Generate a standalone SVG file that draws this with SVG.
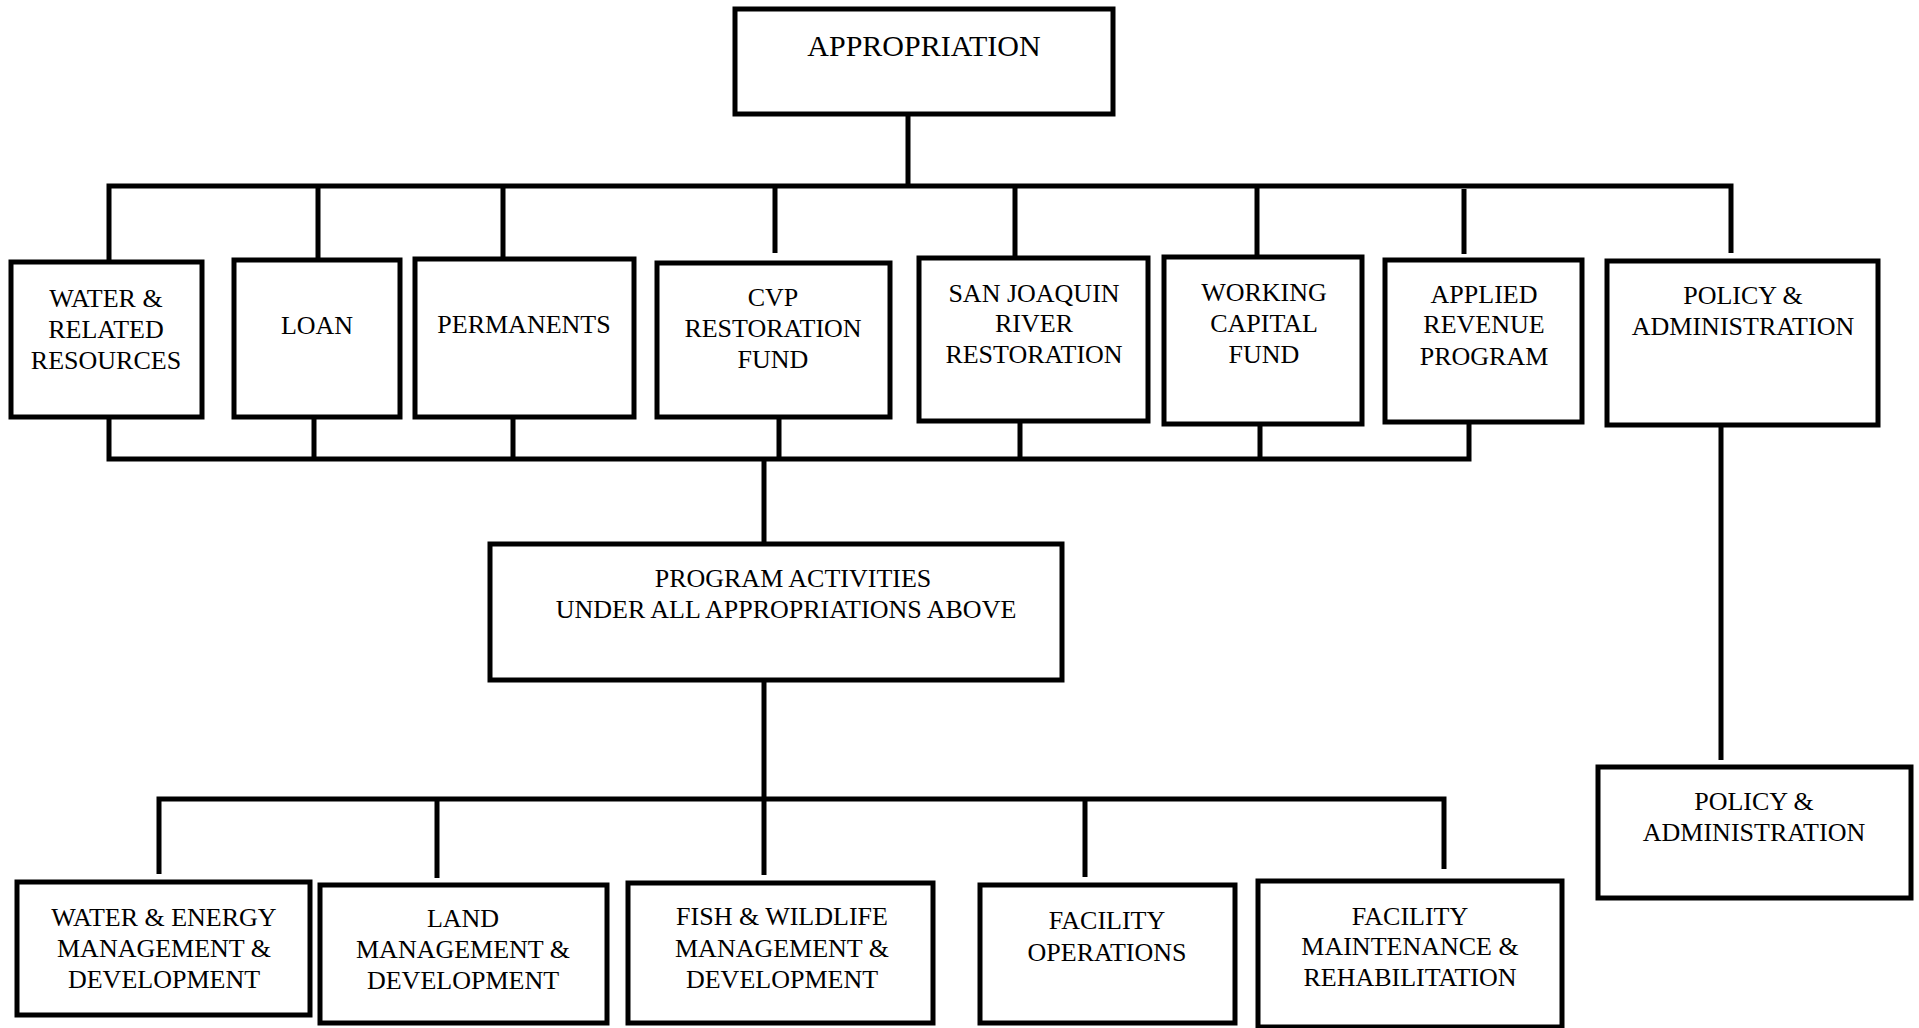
<svg xmlns="http://www.w3.org/2000/svg" width="1919" height="1028" viewBox="0 0 1919 1028">
<style>
.box{fill:#fff;stroke:#000;stroke-width:5}
.c{fill:none;stroke:#000;stroke-width:5;stroke-linecap:butt}
text{font-family:"Liberation Serif","Times New Roman",serif;font-size:26px;fill:#000;text-anchor:middle}
.big{font-size:30px}
</style>
<rect width="1919" height="1028" fill="#fff"/>
<g id="connectors">
<path class="c" d="M908,114V186M109,186H1733.5M109,183.5V262M318,186V260M503,186V259M775,186V253M1015,186V258M1257,186V257M1464,189V254M1731,183.5V253"/>
<path class="c" d="M109,417V459M106.5,459H1471.5M314,417V459M513,417V459M779,417V459M1020,421V459M1260,424V459M1469,422V461.5M764,459V544"/>
<path class="c" d="M1721,425V760"/>
<path class="c" d="M764,680V799M156.5,799H1446.5M159,796.5V874M437,799V878M764,799V875M1085,799V877M1444,796.5V869"/>
</g>
<g id="appropriation"><rect class="box" x="735" y="9" width="378" height="105"/><text class="big" x="924" y="56">APPROPRIATION</text></g>
<g id="water-related"><rect class="box" x="11" y="262" width="191" height="155"/><text x="106" y="307">WATER &amp;<tspan x="106" y="338">RELATED</tspan><tspan x="106" y="369">RESOURCES</tspan></text></g>
<g id="loan"><rect class="box" x="234" y="260" width="166" height="157"/><text x="317" y="334">LOAN</text></g>
<g id="permanents"><rect class="box" x="415" y="259" width="219" height="158"/><text x="524" y="333">PERMANENTS</text></g>
<g id="cvp"><rect class="box" x="657" y="263" width="233" height="154"/><text x="773" y="306">CVP<tspan x="773" y="337">RESTORATION</tspan><tspan x="773" y="368">FUND</tspan></text></g>
<g id="san-joaquin"><rect class="box" x="919" y="258" width="229" height="163"/><text x="1034" y="302">SAN JOAQUIN<tspan x="1034" y="332">RIVER</tspan><tspan x="1034" y="363">RESTORATION</tspan></text></g>
<g id="working-capital"><rect class="box" x="1164" y="257" width="198" height="167"/><text x="1264" y="301">WORKING<tspan x="1264" y="332">CAPITAL</tspan><tspan x="1264" y="363">FUND</tspan></text></g>
<g id="applied-revenue"><rect class="box" x="1385" y="260" width="197" height="162"/><text x="1484" y="303">APPLIED<tspan x="1484" y="333">REVENUE</tspan><tspan x="1484" y="365">PROGRAM</tspan></text></g>
<g id="policy-top"><rect class="box" x="1607" y="261" width="271" height="164"/><text x="1743" y="304">POLICY &amp;<tspan x="1743" y="335">ADMINISTRATION</tspan></text></g>
<g id="program-activities"><rect class="box" x="490" y="544" width="572" height="136"/><text x="793" y="587">PROGRAM ACTIVITIES</text><text x="786" y="618">UNDER ALL APPROPRIATIONS ABOVE</text></g>
<g id="water-energy"><rect class="box" x="17" y="882" width="293" height="133"/><text x="164" y="926">WATER &amp; ENERGY<tspan x="164" y="957">MANAGEMENT &amp;</tspan><tspan x="164" y="988">DEVELOPMENT</tspan></text></g>
<g id="land"><rect class="box" x="320" y="885" width="287" height="138"/><text x="463" y="927">LAND<tspan x="463" y="958">MANAGEMENT &amp;</tspan><tspan x="463" y="989">DEVELOPMENT</tspan></text></g>
<g id="fish-wildlife"><rect class="box" x="628" y="883" width="305" height="140"/><text x="782" y="925">FISH &amp; WILDLIFE<tspan x="782" y="957">MANAGEMENT &amp;</tspan><tspan x="782" y="988">DEVELOPMENT</tspan></text></g>
<g id="facility-operations"><rect class="box" x="980" y="885" width="255" height="138"/><text x="1107" y="929">FACILITY<tspan x="1107" y="961">OPERATIONS</tspan></text></g>
<g id="facility-maintenance"><rect class="box" x="1258" y="881" width="304" height="146"/><text x="1410" y="925">FACILITY<tspan x="1410" y="955">MAINTENANCE &amp;</tspan><tspan x="1410" y="986">REHABILITATION</tspan></text></g>
<g id="policy-bottom"><rect class="box" x="1598" y="767" width="313" height="131"/><text x="1754" y="810">POLICY &amp;<tspan x="1754" y="841">ADMINISTRATION</tspan></text></g>
</svg>
